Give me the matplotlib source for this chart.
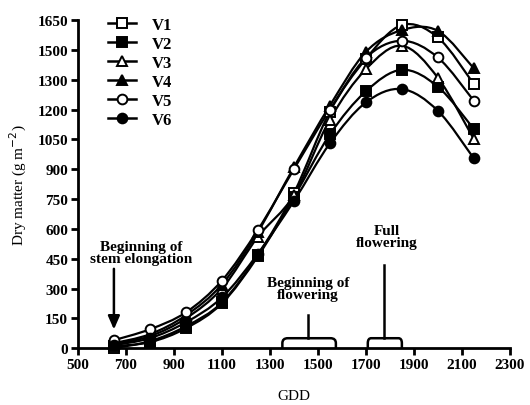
import matplotlib
matplotlib.use('Agg')
import matplotlib.pyplot as plt
import numpy as np
from matplotlib.path import Path
from matplotlib.patches import PathPatch

plt.rcParams['font.family'] = ['Liberation Serif', 'DejaVu Serif']

gdd = [650, 800, 950, 1100, 1250, 1400, 1550, 1700, 1850, 2000, 2150]
v1 = [0, 35, 110, 230, 470, 780, 1190, 1455, 1625, 1563, 1328]
v2 = [10, 30, 100, 225, 462, 760, 1075, 1292, 1400, 1315, 1102]
v3 = [20, 60, 150, 300, 560, 770, 1150, 1403, 1521, 1360, 1051]
v4 = [25, 70, 165, 320, 585, 910, 1220, 1490, 1600, 1596, 1407]
v5 = [40, 95, 180, 340, 595, 900, 1200, 1460, 1546, 1462, 1244]
v6 = [15, 50, 130, 255, 475, 740, 1030, 1236, 1303, 1194, 954]

series = [('V1', v1, 's', 'white'), ('V2', v2, 's', 'black'),
          ('V3', v3, '^', 'white'), ('V4', v4, '^', 'black'),
          ('V5', v5, 'o', 'white'), ('V6', v6, 'o', 'black')]

yticks = [0, 150, 300, 450, 600, 750, 900, 1050, 1200, 1350, 1500, 1650]
ylabels = ['0', '150', '300', '450', '600', '750', '900', '1050', '1200', '1300', '1500', '1650']
xticks = [500, 700, 900, 1100, 1300, 1500, 1700, 1900, 2100, 2300]


def smooth_path(x, y):
    # Catmull-Rom through the points, drawn as cubic bezier segments
    x = np.asarray(x, float)
    y = np.asarray(y, float)
    pts = np.column_stack([x, y])
    verts = [pts[0]]
    codes = [Path.MOVETO]
    n = len(pts)
    for i in range(n - 1):
        p0 = pts[i - 1] if i > 0 else pts[i]
        p1 = pts[i]
        p2 = pts[i + 1]
        p3 = pts[i + 2] if i + 2 < n else pts[i + 1]
        verts += [p1 + (p2 - p0) / 6, p2 - (p3 - p1) / 6, p2]
        codes += [Path.CURVE4] * 3
    return Path(verts, codes)


def bracket(ax, x0, x1, xs, h, top):
    r = (x1 - x0) * 0.1
    rh = h * 0.5
    verts = [(x0, 0), (x0, h - rh), (x0, h), (x0 + r, h), (x1 - r, h),
             (x1, h), (x1, h - rh), (x1, 0)]
    codes = [Path.MOVETO, Path.LINETO, Path.CURVE3, Path.CURVE3, Path.LINETO,
             Path.CURVE3, Path.CURVE3, Path.LINETO]
    ax.add_patch(PathPatch(Path(verts, codes), fill=False, lw=1.8, ec='black', clip_on=False))
    ax.plot([xs, xs], [h, top], color='black', lw=1.8, clip_on=False)


fig = plt.figure(figsize=(5.3, 4.06), dpi=100)
ax = fig.add_axes([0.147, 0.140, 0.815, 0.808])

for name, vals, mk, fc in series:
    ax.add_patch(PathPatch(smooth_path(gdd, vals), fill=False, lw=1.6, ec='black', clip_on=False, zorder=2))
    ax.plot(gdd, vals, linestyle='none', marker=mk, ms=7, mfc=fc, mec='black', mew=1.4,
            clip_on=False, zorder=3)
    ax.plot([], [], color='black', lw=1.8, marker=mk, ms=7, mfc=fc, mec='black', mew=1.4, label=name)

ax.set_xlim(500, 2300)
ax.set_ylim(0, 1650)
ax.set_xticks(xticks)
ax.set_yticks(yticks)
ax.set_yticklabels(ylabels)
for lab in ax.get_xticklabels() + ax.get_yticklabels():
    lab.set_fontweight('bold')
    lab.set_fontsize(11)
ax.tick_params(direction='out', length=5, width=2, pad=2)
ax.spines['top'].set_visible(False)
ax.spines['right'].set_visible(False)
ax.spines['left'].set_linewidth(2)
ax.spines['bottom'].set_linewidth(2)

ax.set_xlabel('GDD', fontsize=11, labelpad=13)
ax.set_ylabel('Dry matter (g m$^{-2}$)', fontsize=11, labelpad=6)

leg = ax.legend(loc='upper left', bbox_to_anchor=(0.035, 1.055), frameon=False,
                handlelength=1.7, labelspacing=0.18, handletextpad=0.9,
                prop={'weight': 'bold', 'size': 12})

# stage annotations
ax.annotate('', xy=(650, 80), xytext=(650, 413),
            arrowprops=dict(arrowstyle='-|>,head_width=0.35,head_length=0.8', color='black', lw=1.8))
ax.text(765, 480, 'Beginning of\nstem elongation', ha='center', va='center',
        fontsize=11, fontweight='bold', linespacing=0.95)

bracket(ax, 1352, 1575, 1460, 50, 165)
ax.text(1460, 300, 'Beginning of\nflowering', ha='center', va='center',
        fontsize=11, fontweight='bold', linespacing=0.95)

bracket(ax, 1708, 1850, 1775, 50, 420)
ax.text(1787, 562, 'Full\nflowering', ha='center', va='center',
        fontsize=11, fontweight='bold', linespacing=0.95)

plt.savefig('out.png', dpi=100)
